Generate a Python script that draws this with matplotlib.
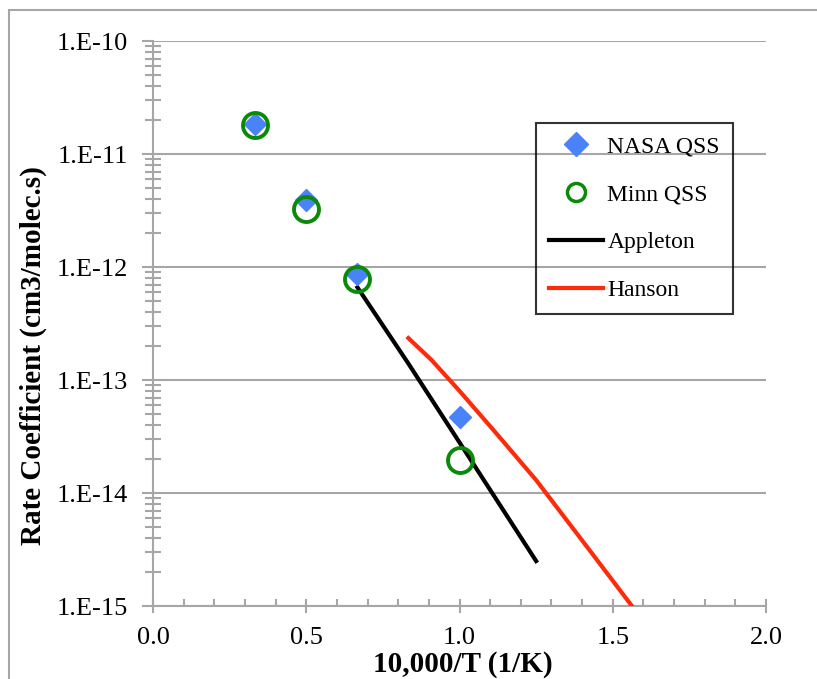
import matplotlib
matplotlib.use("Agg")
import matplotlib.pyplot as plt
from matplotlib.ticker import LogLocator, MultipleLocator, NullFormatter, FixedLocator
from matplotlib.patches import Rectangle

plt.rcParams['font.family'] = ['Liberation Serif', 'DejaVu Serif']

# measured rate coefficients (cm3/molec.s) against 10,000/T
nasa_x = [0.333, 0.5, 0.667, 1.0]
nasa_k = [1.85e-11, 3.9e-12, 8.7e-13, 4.7e-14]

minn_x = [0.333, 0.5, 0.667, 1.0]
minn_k = [1.8e-11, 3.25e-12, 7.9e-13, 1.97e-14]

appleton_x = [0.667, 0.833, 1.0, 1.25]
appleton_k = [6.6e-13, 1.4e-13, 2.8e-14, 2.5e-15]

hanson_x = [0.833, 0.909, 1.0, 1.111, 1.25, 1.429, 1.5625]
hanson_k = [2.35e-13, 1.5e-13, 8.0e-14, 3.6e-14, 1.3e-14, 3.0e-15, 1.0e-15]

ytick_vals = [1e-15, 1e-14, 1e-13, 1e-12, 1e-11, 1e-10]
ytick_labels = ["1.E-15", "1.E-14", "1.E-13", "1.E-12", "1.E-11", "1.E-10"]

grey = "#A6A6A6"
fs = 19

fig = plt.figure(figsize=(8.17, 6.79), dpi=100)
ax = fig.add_axes([0.1873, 0.1075, 0.7503, 0.8321])

# light border around the chart area (left and top visible)
fig.patches.append(Rectangle((9 / 817, -0.1), 1.2, 1.1 - 10 / 679,
                             transform=fig.transFigure, fill=False,
                             edgecolor=grey, linewidth=1.5))

ax.plot(appleton_x, appleton_k, color="black", lw=3, label="Appleton", zorder=3)
ax.plot(hanson_x, hanson_k, color="#FF2A0A", lw=3, label="Hanson", zorder=3)
ax.plot(nasa_x, nasa_k, ls="none", marker="D", ms=11.5, color="#4A82F7",
        mec="#4A82F7", label="NASA QSS", zorder=4)
ax.plot(minn_x, minn_k, ls="none", marker="o", ms=18, mfc="none",
        mec="#0A8A0A", mew=2.8, label="Minn QSS", zorder=5)

ax.set_yscale("log")
ax.set_xlim(0, 2)
ax.set_ylim(1e-15, 1e-10)

ax.yaxis.set_major_locator(FixedLocator(ytick_vals))
ax.set_yticklabels(ytick_labels, fontsize=fs)
ax.yaxis.set_minor_locator(LogLocator(base=10, subs=range(2, 10)))
ax.yaxis.set_minor_formatter(NullFormatter())

ax.set_xticks([0, 0.5, 1.0, 1.5, 2.0])
ax.set_xticklabels(["0.0", "0.5", "1.0", "1.5", "2.0"], fontsize=fs)
ax.xaxis.set_minor_locator(MultipleLocator(0.1))

ax.grid(axis="y", which="major", color=grey, lw=1.5)
ax.set_axisbelow(True)

for s in ["top", "right"]:
    ax.spines[s].set_visible(False)
for s in ["left", "bottom"]:
    ax.spines[s].set_color(grey)
    ax.spines[s].set_linewidth(1.5)

ax.tick_params(axis="y", which="major", direction="out", length=8, width=1.5, color=grey, pad=10)
ax.tick_params(axis="y", which="minor", direction="inout", length=12, width=1.5, color=grey)
ax.tick_params(axis="x", which="major", direction="inout", length=10, width=1.5, color=grey, pad=10)
ax.tick_params(axis="x", which="minor", direction="in", length=5, width=1.5, color=grey)

ax.set_xlabel("10,000/T (1/K)", fontsize=21, fontweight="bold", va="center")
ax.xaxis.set_label_coords(0.506, -0.103)
ax.set_ylabel("Rate Coefficient (cm3/molec.s)", fontsize=21, fontweight="bold", va="center")
ax.yaxis.set_label_coords(-0.196, 0.444)

handles, labels = ax.get_legend_handles_labels()
order = [2, 3, 0, 1]
leg = ax.legend([handles[i] for i in order], [labels[i] for i in order],
                loc="upper left", bbox_to_anchor=(0.6248, 0.8549), fontsize=17,
                frameon=True, fancybox=False, edgecolor="black",
                handlelength=2.29, handletextpad=0.17, labelspacing=1.11,
                borderpad=0.56, borderaxespad=0)
leg.get_frame().set_facecolor("none")
leg.get_frame().set_linewidth(1.5)
lh = leg.legend_handles
lh[0].set_markersize(12)
lh[1].set_markersize(13)
lh[1].set_markeredgewidth(2.5)

fig.savefig("out.png", dpi=100)
